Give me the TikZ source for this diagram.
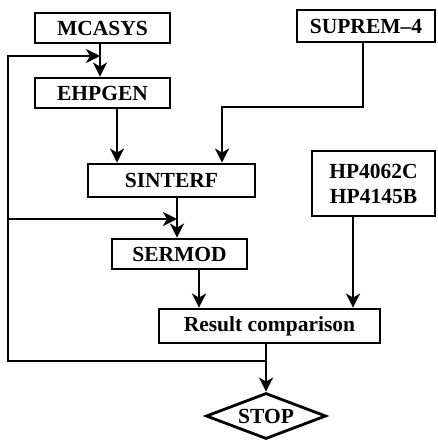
\documentclass[tikz,border=0pt]{standalone}
\usepackage{fontspec}
\setmainfont{Liberation Serif}
\usetikzlibrary{shapes.geometric,arrows.meta}
\begin{document}
\begin{tikzpicture}[x=1pt,y=-1pt,
  every node/.style={font=\bfseries\fontsize{21.5}{25}\selectfont},
  box/.style={draw,line width=2.8pt,rectangle,inner sep=0pt,align=center},
  stopbox/.style={draw,line width=2.8pt,diamond,aspect=2.6,inner sep=0pt,minimum width=120pt,minimum height=46pt},
  arr/.style={line width=2.8pt,line join=miter,-{Stealth[length=14pt,width=14pt,inset=4pt]}}]
\useasboundingbox (0,0) rectangle (438,444);
\node[box,minimum width=135pt,minimum height=30pt] (MCASYS) at (102.5,28) {MCASYS};
\node[box,minimum width=135pt,minimum height=30pt] (EHPGEN) at (102.5,93) {EHPGEN};
\node[box,minimum width=138pt,minimum height=32pt] (SUPREM) at (366,26) {SUPREM--4};
\node[box,minimum width=167pt,minimum height=33pt] (SINTERF) at (171.5,180.5) {SINTERF};
\node[box,minimum width=135pt,minimum height=30pt] (SERMOD) at (179.5,254) {SERMOD};
\node[box,minimum width=123pt,minimum height=65pt] (HP) at (373.5,183.5) {HP4062C\\HP4145B};
\node[box,minimum width=221pt,minimum height=34pt] (Result) at (269.5,326) {Result comparison};
\node[stopbox] (STOP) at (266,416) {STOP};
% column and row guides
\coordinate (xa) at (100,0);
\coordinate (xb) at (117,0);
\coordinate (xc) at (222,0);
\coordinate (xd) at (363,0);
\coordinate (xe) at (177,0);
\coordinate (xf) at (199,0);
\coordinate (xg) at (353,0);
\coordinate (xh) at (266,0);
\coordinate (xl) at (8,0);
\coordinate (ya) at (0,56);
\coordinate (yb) at (0,107);
\coordinate (yc) at (0,219);
\coordinate (yd) at (0,361);
\coordinate (j1) at (xh |- yd);
% connectors
\draw[arr] (MCASYS.south -| xa) -- (EHPGEN.north -| xa);
\draw[arr] (EHPGEN.south -| xb) -- (SINTERF.north -| xb);
\draw[arr] (SUPREM.south -| xd) -- (xd |- yb) -- (xc |- yb) -- (SINTERF.north -| xc);
\draw[arr] (SINTERF.south -| xe) -- (SERMOD.north -| xe);
\draw[arr] (SERMOD.south -| xf) -- (Result.north -| xf);
\draw[arr] (HP.south -| xg) -- (Result.north -| xg);
\draw[arr] (Result.south -| xh) -- (STOP.north);
\draw[arr] (j1) -- (xl |- yd) -- (xl |- ya) -- (xa |- ya);
\draw[arr] (xl |- yc) -- (xe |- yc);
\end{tikzpicture}
\end{document}
